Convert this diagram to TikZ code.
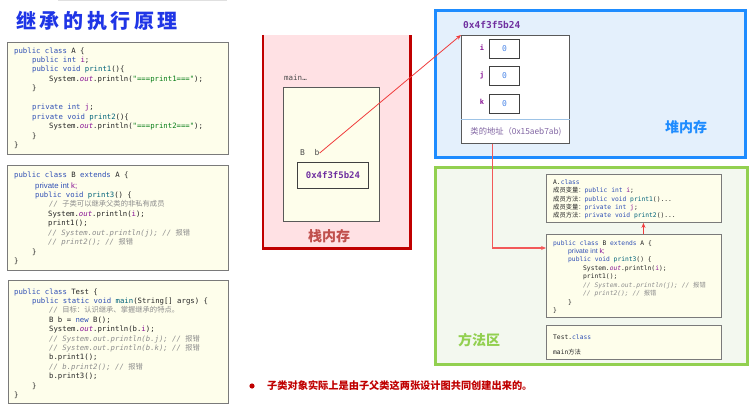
\documentclass[tikz,border=0pt]{standalone}
\usepackage{fontspec}
\setmainfont{Liberation Sans}
\newfontfamily\cjk{Noto Sans CJK SC}
\newfontfamily\monof{DejaVu Sans Mono}
\usetikzlibrary{arrows.meta}
\definecolor{kwc}{HTML}{2F4FB5}
\definecolor{fdc}{HTML}{871094}
\definecolor{mtc}{HTML}{00627A}
\definecolor{stc}{HTML}{067D17}
\definecolor{cmc}{HTML}{8C8C8C}
\definecolor{codetxt}{HTML}{262626}
\definecolor{boxfill}{HTML}{FEFEEB}
\definecolor{boxline}{HTML}{7A7A7A}
\definecolor{stackfill}{HTML}{FFE1E4}
\definecolor{stackline}{HTML}{C00000}
\definecolor{stacklbl}{HTML}{C0504D}
\definecolor{heapfill}{HTML}{E4F0FC}
\definecolor{heapline}{HTML}{1E8CFF}
\definecolor{methfill}{HTML}{F3F8EF}
\definecolor{methline}{HTML}{92D050}
\definecolor{addrc}{HTML}{7030A0}
\definecolor{zeroc}{HTML}{4A86E8}
\definecolor{arrowred}{HTML}{F03C3C}
\definecolor{titlec}{HTML}{1F35E6}
\definecolor{sepc}{HTML}{9DC3E6}
\definecolor{clsaddr}{HTML}{8064A2}
\definecolor{bulletred}{HTML}{C00000}
\newcommand\ckw[1]{\textcolor{kwc}{#1}}
\newcommand\cfd[1]{\textcolor{fdc}{#1}}
\newcommand\cmt[1]{\textcolor{mtc}{#1}}
\newcommand\cst[1]{\textcolor{stc}{#1}}
\newcommand\ccm[1]{\textcolor{cmc}{\itshape #1}}
\newcommand\cout{\textcolor{fdc}{\itshape out}}
\tikzset{
  codebox/.style={draw=boxline, fill=boxfill, line width=0.9pt, inner sep=0pt, anchor=north west},
  code/.style={anchor=base west, inner sep=0pt, text=codetxt, font=\monof\fontsize{7.3pt}{9pt}\selectfont},
  scode/.style={anchor=base west, inner sep=0pt, text=codetxt, font=\monof\fontsize{6.3pt}{8pt}\selectfont},
  sanscode/.style={anchor=base west, inner sep=0pt, font=\fontsize{7.8pt}{8pt}\selectfont},
  ssanscode/.style={anchor=base west, inner sep=0pt, font=\fontsize{6.8pt}{7pt}\selectfont},
  valbox/.style={draw=black!75, fill=white, line width=0.9pt, inner sep=0pt, anchor=north west, minimum width=30pt, minimum height=19pt, font=\monof\fontsize{8pt}{9pt}\selectfont, text=zeroc},
  fieldlbl/.style={inner sep=0pt, font=\monof\bfseries\fontsize{7pt}{8pt}\selectfont, text=fdc},
  arealbl/.style={inner sep=0pt, font=\cjk\bfseries\fontsize{14pt}{15pt}\selectfont},
  redarrow/.style={draw=arrowred, -{Stealth[length=5pt,width=4pt]}},
}
\begin{document}
\begin{tikzpicture}[x=1pt,y=-1pt]
\useasboundingbox (0,0) rectangle (755,409);
\fill[white] (0,0) rectangle (755,409);
\fill[black!12] (58,0) rectangle (227,1.5);

% title
\node[inner sep=0pt, text=titlec, font=\cjk\bfseries\fontsize{20pt}{22pt}\selectfont] (title) at (97,21)
  {继\hspace{3.6pt}承\hspace{3.6pt}的\hspace{3.6pt}执\hspace{3.6pt}行\hspace{3.6pt}原\hspace{3.6pt}理};

% ---------- code box A ----------
\node[codebox, minimum width=221pt, minimum height=112pt] (codeA) at (7,42) {};
\node[code] (a1) at (14,54) {\ckw{public class} A \{};
\node[code] (a2) at (32,63) {\ckw{public int} \cfd{i};};
\node[code] (a3) at (32,72) {\ckw{public void} \cmt{print1}()\{};
\node[code] (a4) at (49,82) {System.\cout.println(\cst{"===print1==="});};
\node[code] (a5) at (32,91) {\}};
\node[code] (a6) at (32,110) {\ckw{private int} \cfd{j};};
\node[code] (a7) at (32,120) {\ckw{private void} \cmt{print2}()\{};
\node[code] (a8) at (49,129) {System.\cout.println(\cst{"===print2==="});};
\node[code] (a9) at (32,139) {\}};
\node[code] (a10) at (14,148) {\}};

% ---------- code box B ----------
\node[codebox, minimum width=221pt, minimum height=105pt] (codeB) at (7,165) {};
\node[code] (b1) at (14,178) {\ckw{public class} B \ckw{extends} A \{};
\node[sanscode] (b2) at (35,188) {\ckw{private int} \cfd{k;}};
\node[code] (b3) at (35,197) {\ckw{public void} \cmt{print3}() \{};
\node[code] (b4) at (49,206) {\ccm{// {\cjk 子类可以继承父类的非私有成员}}};
\node[code] (b5) at (48,216) {System.\cout.println(\cfd{i});};
\node[code] (b6) at (48,225) {print1();};
\node[code] (b7) at (48,235) {\ccm{// System.out.println(j); // {\cjk 报错}}};
\node[code] (b8) at (48,244) {\ccm{// print2(); // {\cjk 报错}}};
\node[code] (b9) at (32,254) {\}};
\node[code] (b10) at (14,263) {\}};

% ---------- code box Test ----------
\node[codebox, minimum width=220pt, minimum height=123pt] (codeT) at (8,280) {};
\node[code] (t1) at (14,294) {\ckw{public class} Test \{};
\node[code] (t2) at (32,303) {\ckw{public static void} \cmt{main}(String[] args) \{};
\node[code] (t3) at (49,312) {\ccm{// {\cjk 目标：认识继承、掌握继承的特点。}}};
\node[code] (t4) at (49,322) {B b = \ckw{new} B();};
\node[code] (t5) at (49,331) {System.\cout.println(b.\cfd{i});};
\node[code] (t6) at (49,341) {\ccm{// System.out.println(b.j); // {\cjk 报错}}};
\node[code] (t7) at (49,350) {\ccm{// System.out.println(b.k); // {\cjk 报错}}};
\node[code] (t8) at (49,359) {b.print1();};
\node[code] (t9) at (49,369) {\ccm{// b.print2(); // {\cjk 报错}}};
\node[code] (t10) at (49,378) {b.print3();};
\node[code] (t11) at (32,388) {\}};
\node[code] (t12) at (14,397) {\}};

% ---------- stack ----------
\node[fill=stackfill, inner sep=0pt, anchor=north west, minimum width=147pt, minimum height=213pt] (stack) at (263,35) {};
\draw[stackline, line width=2.4pt] (stack.north west) -- (stack.south west) -- (stack.south east) -- (stack.north east);
\node[anchor=base west, inner sep=0pt, text=black!70, font=\monof\fontsize{7.5pt}{8pt}\selectfont] (mainlbl) at (284,81) {main…};
\node[draw=black!65, fill=boxfill, line width=0.9pt, inner sep=0pt, anchor=north west, minimum width=96pt, minimum height=134pt] (mainF) at (283,87) {};
\node[anchor=base west, inner sep=0pt, text=black!70, font=\monof\fontsize{8pt}{9pt}\selectfont] (bvar) at (300,156) {B\ \ b};
\node[draw=black!75, fill=boxfill, line width=0.9pt, inner sep=0pt, anchor=north west, minimum width=71pt, minimum height=26pt, text=addrc, font=\monof\bfseries\fontsize{9pt}{10pt}\selectfont] (addr) at (297,162) {0x4f3f5b24};
\node[arealbl, text=stacklbl] (stacklbl) at (329,236) {栈内存};

% ---------- heap ----------
\node[draw=heapline, fill=heapfill, line width=2.8pt, inner sep=0pt, anchor=north west, minimum width=310pt, minimum height=147pt] (heap) at (434,9) {};
\node[anchor=base west, inner sep=0pt, text=addrc, font=\monof\bfseries\fontsize{9.5pt}{10pt}\selectfont] (haddr) at (463,29) {0x4f3f5b24};
\node[draw=black!65, fill=white, line width=0.9pt, inner sep=0pt, anchor=north west, minimum width=108pt, minimum height=108pt] (heapObj) at (461,35) {};
\draw[sepc, line width=0.8pt] ([yshift=24pt]heapObj.south west) -- ([yshift=24pt]heapObj.south east);
\node[fieldlbl] (li) at (482,48) {i};
\node[valbox] (vi) at (489,39) {0};
\node[fieldlbl] (lj) at (482,75) {j};
\node[valbox] (vj) at (489,66) {0};
\node[fieldlbl] (lk) at (482,102) {k};
\node[valbox] (vk) at (489,94) {0};
\node[inner sep=0pt, text=clsaddr, font=\cjk\fontsize{8.3pt}{9pt}\selectfont] (clsaddr) at (516,132) {类的地址（0x15aeb7ab)};
\node[arealbl, text=heapline] (heaplbl) at (686,127) {堆内存};

% ---------- method area ----------
\node[draw=methline, fill=methfill, line width=2.8pt, inner sep=0pt, anchor=north west, minimum width=312pt, minimum height=197pt] (meth) at (434,166) {};
\node[codebox, minimum width=175pt, minimum height=48pt] (Acls) at (546,174) {};
\node[scode] (ac1) at (553,184) {A.\ckw{class}};
\node[scode] (ac2) at (553,192) {{\cjk 成员变量：}\ckw{public int} \cfd{i};};
\node[scode] (ac3) at (553,201) {{\cjk 成员方法：}\ckw{public void} \cmt{print1}()...};
\node[scode] (ac4) at (553,209) {{\cjk 成员变量：}\ckw{private int} \cfd{j};};
\node[scode] (ac5) at (553,217) {{\cjk 成员方法：}\ckw{private void} \cmt{print2}()...};

\node[codebox, minimum width=175pt, minimum height=83pt] (Bcls) at (546,234) {};
\node[scode] (bc1) at (553,245) {\ckw{public class} B \ckw{extends} A \{};
\node[ssanscode] (bc2) at (568,253) {\ckw{private int} \cfd{k;}};
\node[scode] (bc3) at (568,261) {\ckw{public void} \cmt{print3}() \{};
\node[scode] (bc4) at (583,270) {System.\cout.println(\cfd{i});};
\node[scode] (bc5) at (583,278) {print1();};
\node[scode] (bc6) at (583,287) {\ccm{// System.out.println(j); // {\cjk 报错}}};
\node[scode] (bc7) at (583,295) {\ccm{// print2(); // {\cjk 报错}}};
\node[scode] (bc8) at (568,304) {\}};
\node[scode] (bc9) at (553,312) {\}};

\node[codebox, minimum width=175pt, minimum height=34pt] (Tcls) at (546,325) {};
\node[scode] (tc1) at (553,339) {Test.\ckw{class}};
\node[scode] (tc2) at (553,354) {main{\cjk 方法}};
\node[arealbl, text=methline] (methlbl) at (479,340) {方法区};

% ---------- connectors ----------
\draw[redarrow, line width=0.8pt] (bvar.east) -- (heapObj.north west);
\draw[redarrow, draw=arrowred!85, line width=1.4pt] ([xshift=-23pt]heapObj.south) |- ([yshift=-14pt]Bcls.north west);
\draw[redarrow, line width=1.1pt] ([xshift=9.5pt]Bcls.north) -- ([xshift=9.5pt]Acls.south);

% ---------- bottom note ----------
\fill[bulletred] (252,386) circle (2.6pt);
\node[anchor=west, inner sep=0pt, text=bulletred, font=\cjk\bfseries\fontsize{10.2pt}{11pt}\selectfont] (note) at (267,386) {子类对象实际上是由子父类这两张设计图共同创建出来的。};
\end{tikzpicture}
\end{document}
